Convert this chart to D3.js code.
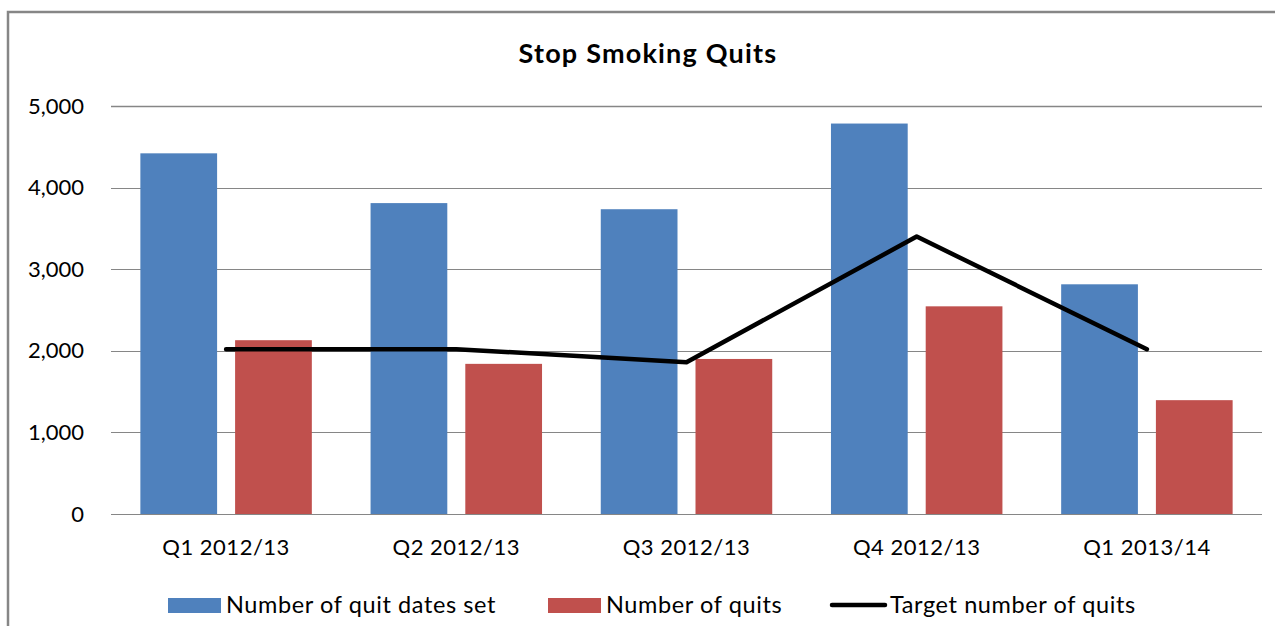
<!DOCTYPE html>
<html lang="en">
<head>
<meta charset="UTF-8">
<title>Stop Smoking Quits</title>
<script src="https://cdn.jsdelivr.net/npm/d3@7/dist/d3.min.js"></script>
<style>
  body { margin: 0; background: #fff; }
  text { font-family: Lato, "Open Sans", sans-serif; fill: #000; }
</style>
</head>
<body>
<div id="box"></div>
<script>
// data
const categories = ["Q1 2012/13", "Q2 2012/13", "Q3 2012/13", "Q4 2012/13", "Q1 2013/14"];
const quitDatesSet = [4420, 3810, 3735, 4785, 2815];
const quits = [2130, 1840, 1900, 2545, 1395];
const target = [2020, 2020, 1860, 3400, 2020];
const yTicks = [0, 1000, 2000, 3000, 4000, 5000];
const seriesNames = ["Number of quit dates set", "Number of quits", "Target number of quits"];

const width = 1275, height = 635;
const margin = {top: 106, right: 13, bottom: 121, left: 111};
const innerWidth = width - margin.left - margin.right;
const innerHeight = height - margin.top - margin.bottom;

const svg = d3.select("#box").append("svg")
  .attr("width", width).attr("height", height);

// chart frame (only top and left edges show)
svg.append("path")
  .attr("d", "M8,626 V12 H1275")
  .attr("fill", "none").attr("stroke", "#868686").attr("stroke-width", 2.5);

const x = d3.scaleBand().domain(categories).range([0, innerWidth]);
const x1 = d3.scaleBand().domain(["set", "quits"]).range([0, x.bandwidth()])
  .paddingInner(0.19).paddingOuter(0.31);
const y = d3.scaleLinear().domain([0, 5000]).range([innerHeight, 0]);

const g = svg.append("g").attr("transform", `translate(${margin.left},${margin.top})`);

// gridlines
g.append("g").selectAll("line").data(yTicks).join("line")
  .attr("x1", 0).attr("x2", innerWidth)
  .attr("y1", d => Math.round(y(d)) + 0.5).attr("y2", d => Math.round(y(d)) + 0.5)
  .attr("stroke", "#868686").attr("stroke-width", d => d === 5000 ? 1.6 : 1.2);

// y axis labels
const yAxis = d3.axisLeft(y).tickValues(yTicks).tickFormat(d3.format(",")).tickSize(0).tickPadding(27);
g.append("g").call(yAxis)
  .call(a => a.select(".domain").remove())
  .selectAll("text").attr("font-size", "22px").attr("font-family", "Lato").attr("fill", "#000");

// x axis labels
const xAxis = d3.axisBottom(x).tickSize(0).tickPadding(25);
g.append("g").attr("transform", `translate(0,${innerHeight})`).call(xAxis)
  .call(a => a.select(".domain").remove())
  .selectAll("text").attr("font-size", "22px").attr("font-family", "Lato")
  .attr("letter-spacing", "0.5px").attr("fill", "#000");

// bars
const barGroups = g.append("g").selectAll("g").data(categories).join("g")
  .attr("transform", d => `translate(${x(d)},0)`);
barGroups.append("rect")
  .attr("x", x1("set")).attr("width", x1.bandwidth())
  .attr("y", (d, i) => y(quitDatesSet[i]))
  .attr("height", (d, i) => innerHeight - y(quitDatesSet[i]))
  .attr("fill", "#4F81BD");
barGroups.append("rect")
  .attr("x", x1("quits")).attr("width", x1.bandwidth())
  .attr("y", (d, i) => y(quits[i]))
  .attr("height", (d, i) => innerHeight - y(quits[i]))
  .attr("fill", "#C0504D");

// target line
const line = d3.line()
  .x((d, i) => x(categories[i]) + x.bandwidth() / 2)
  .y(d => y(d));
g.append("path").datum(target)
  .attr("d", line)
  .attr("fill", "none").attr("stroke", "#000").attr("stroke-width", 4.5)
  .attr("stroke-linejoin", "round").attr("stroke-linecap", "round");

// title
svg.append("text").text("Stop Smoking Quits")
  .attr("x", 648).attr("y", 63)
  .attr("text-anchor", "middle")
  .attr("font-size", "27px").attr("font-weight", "bold")
  .attr("letter-spacing", "1.2px");

// legend
const leg = svg.append("g").attr("transform", "translate(0,613)");
const legX = [168, 548, 832];
leg.append("rect").attr("x", legX[0]).attr("y", -15).attr("width", 53).attr("height", 15).attr("fill", "#4F81BD");
leg.append("rect").attr("x", legX[1]).attr("y", -15).attr("width", 53).attr("height", 15).attr("fill", "#C0504D");
leg.append("line").attr("x1", legX[2]).attr("x2", legX[2] + 53).attr("y1", -8).attr("y2", -8)
  .attr("stroke", "#000").attr("stroke-width", 4.5).attr("stroke-linecap", "round");
leg.selectAll("text").data(seriesNames).join("text")
  .attr("x", (d, i) => legX[i] + 58).attr("y", 0)
  .attr("font-size", "23.5px")
  .attr("letter-spacing", "0.6px")
  .text(d => d);
</script>
</body>
</html>
